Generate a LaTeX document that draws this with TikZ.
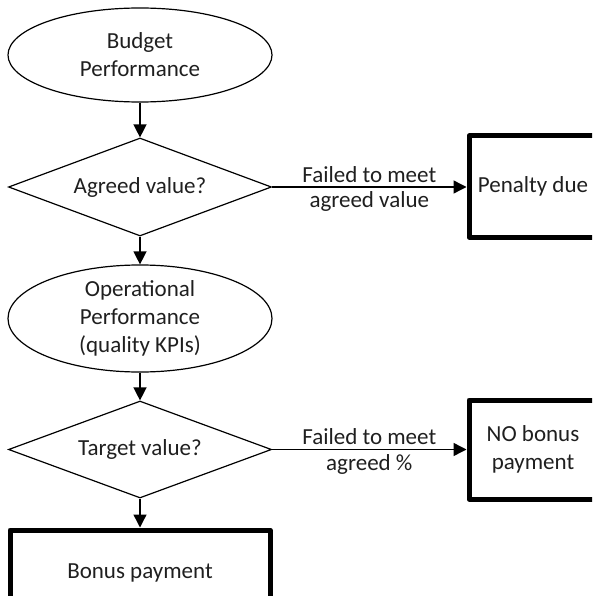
\documentclass[tikz,border=0pt]{standalone}
\usepackage{fontspec}
\setmainfont{Carlito}
\usetikzlibrary{shapes.geometric,arrows.meta}
\begin{document}
\begin{tikzpicture}[x=1pt,y=-1pt,
  txt/.style={font=\fontsize{23}{28}\selectfont, align=center, text=black!88},
  oval/.style={ellipse, draw, line width=1.2pt, inner sep=0pt, txt},
  decision/.style={diamond, aspect=2.68, draw, line width=1.2pt, inner sep=0pt, txt},
  outcome/.style={rectangle, draw, line width=5pt, line join=round, inner sep=0pt, txt},
  arr/.style={line width=1.4pt, -{Triangle[length=13pt,width=13pt]}},
  lbl/.style={txt, inner sep=4pt}]
\useasboundingbox (0,0) rectangle (592,596);
\clip (0,0) rectangle (592,596);
\node[oval, minimum width=264pt, minimum height=94pt] (e1) at (140,55) {Budget\\Performance};
\node[decision, minimum width=263pt, minimum height=98pt] (d1) at (140,187) {Agreed value?};
\node[oval, minimum width=264pt, minimum height=97pt] (e2) at (140,318.5) {Operational\\Performance\\(quality KPIs)};
\node[decision, minimum width=263pt, minimum height=97pt] (d2) at (140,449.5) {Target value?};
\node[outcome, minimum width=128pt, minimum height=101pt] (pen) at (533,186.5) {Penalty due};
\node[outcome, minimum width=128pt, minimum height=99pt] (nob) at (533,449.5) {NO bonus\\payment};
\node[outcome, minimum width=260pt, minimum height=86pt] (bon) at (140,573) {Bonus payment};
\draw[arr] (e1) -- (d1);
\draw[arr] (d1) -- (e2);
\draw[arr] (e2) -- (d2);
\draw[arr] (d2) -- (bon);
\draw[arr] (d1.east) -- (d1.east -| pen.west)
  node[lbl, midway, above] {Failed to meet}
  node[lbl, midway, below] {agreed value};
\draw[arr] (d2.east) -- (d2.east -| nob.west)
  node[lbl, midway, above] {Failed to meet}
  node[lbl, midway, below] {agreed \%};
\end{tikzpicture}
\end{document}
